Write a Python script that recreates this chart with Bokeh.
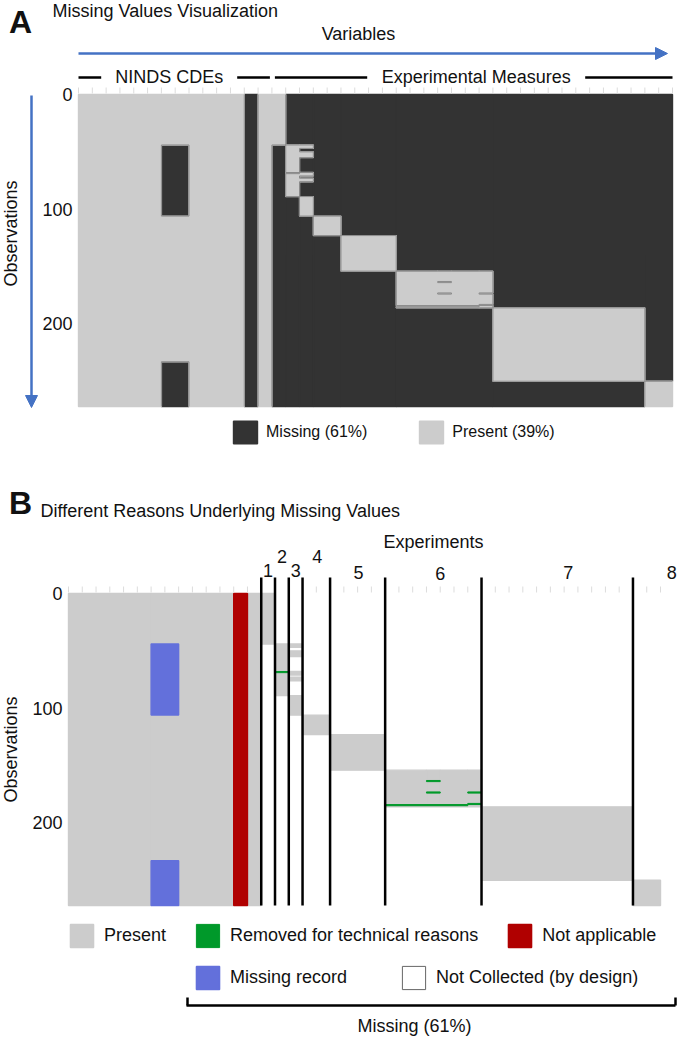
import numpy as np
from bokeh.plotting import figure
from bokeh.models import (Range1d, Label, Arrow, NormalHead,
                          Legend, LegendItem, ColumnDataSource)
from bokeh.core.properties import value
from bokeh.layouts import column
from bokeh.embed import file_html
from bokeh.resources import INLINE

# ------------------------------------------------------------------ data
N_OBS = 272
N_VARS = 43
y_ticks = [0, 100, 200]

group_labels = ["NINDS CDEs", "Experimental Measures"]
group_col_start = [0, 14]
group_col_end = [14, 43]

not_applicable_cols = [12]

record_col_start = [6, 6]
record_col_end = [8, 8]
record_row_start = [44, 233]
record_row_end = [106, 272]

exp_labels = ["1", "2", "3", "4", "5", "6", "7", "8"]
exp_col_start = [14, 15, 16, 17, 19, 23, 30, 41]
exp_col_end = [15, 16, 17, 19, 23, 30, 41, 43]
exp_row_start = [0, 44, 89, 106, 123, 154, 186, 250]
exp_row_end = [44, 89, 106, 123, 154, 186, 250, 272]

frag_col = [16, 16, 16, 16]
frag_row_start = [44, 50, 68, 73]
frag_row_end = [47, 55, 71, 76]

removed_col_start = [15, 26, 26, 29, 29, 23]
removed_col_end = [16, 27, 27, 30, 30, 29]
removed_row = [68, 163, 173, 173, 183, 184]

pct_missing = "61%"
pct_present = "39%"

# ------------------------------------------------------------------ style
FONT = "Liberation Sans"
TXT = "#111111"
C_DARK = "#333333"
C_LIGHT = "#cccccc"
C_GREEN = "#00992a"
C_RED = "#b00000"
C_BLUE = "#6370db"
C_ARROW = "#4472c4"
C_EDGE = "#8a8a8a"
C_TICK = "#dcdcdc"
PAGE_W = 680

PRESENT, REMOVED, NOT_APPLICABLE, MISSING_RECORD, NOT_COLLECTED = range(5)

# ------------------------------------------------------------------ status matrix
status = np.full((N_OBS, N_VARS), PRESENT)
status[:, group_col_start[1]:group_col_end[1]] = NOT_COLLECTED
for c0, c1, r0, r1 in zip(exp_col_start, exp_col_end, exp_row_start, exp_row_end):
    status[r0:r1, c0:c1] = PRESENT
for c, r0, r1 in zip(frag_col, frag_row_start, frag_row_end):
    status[r0:r1, c] = PRESENT
for c in not_applicable_cols:
    status[:, c] = NOT_APPLICABLE
for c0, c1, r0, r1 in zip(record_col_start, record_col_end, record_row_start, record_row_end):
    status[r0:r1, c0:c1] = MISSING_RECORD
for c0, c1, r in zip(removed_col_start, removed_col_end, removed_row):
    status[r, c0:c1] = REMOVED


def to_rects(mat):
    n_r, n_c = mat.shape
    rects = []
    active = {}
    for c in range(n_c):
        col = mat[:, c]
        runs = []
        r0 = 0
        for r in range(1, n_r + 1):
            if r == n_r or col[r] != col[r0]:
                runs.append((r0, r, int(col[r0])))
                r0 = r
        new_active = {}
        for key in runs:
            new_active[key] = active.get(key, c)
        for key, cs in active.items():
            if key not in new_active:
                rects.append((cs, c, key[0], key[1], key[2]))
        active = new_active
    for key, cs in active.items():
        rects.append((cs, n_c, key[0], key[1], key[2]))
    return rects


def boundary_segments(b):
    x0, y0, x1, y1 = [], [], [], []
    n_r, n_c = b.shape
    dh = b[1:, :] != b[:-1, :]
    for i in range(dh.shape[0]):
        c = 0
        while c < n_c:
            if dh[i, c]:
                cs = c
                while c < n_c and dh[i, c]:
                    c += 1
                x0.append(cs); x1.append(c); y0.append(i + 1); y1.append(i + 1)
            else:
                c += 1
    dv = b[:, 1:] != b[:, :-1]
    for j in range(dv.shape[1]):
        r = 0
        while r < n_r:
            if dv[r, j]:
                rs = r
                while r < n_r and dv[r, j]:
                    r += 1
                x0.append(j + 1); x1.append(j + 1); y0.append(rs); y1.append(r)
            else:
                r += 1
    return x0, y0, x1, y1


def rect_source(rects, val):
    sel = [r for r in rects if r[4] == val]
    return ColumnDataSource(dict(
        left=[float(r[0]) for r in sel], right=[float(r[1]) for r in sel],
        top=[float(r[2]) for r in sel], bottom=[float(r[3]) for r in sel]))


class Panel:
    """A figure whose frame fills the whole canvas; page pixels map to data."""

    def __init__(self, page_top, height, left, top, w, h):
        self.page_top, self.height = page_top, height
        self.left, self.top = left, top
        self.pxc, self.pxr = w / N_VARS, h / N_OBS
        x0, _ = self.conv(0, 0)
        x1, _ = self.conv(PAGE_W, 0)
        _, yb = self.conv(0, page_top + height)
        _, yt = self.conv(0, page_top)
        p = figure(width=PAGE_W, height=height,
                   x_range=Range1d(x0, x1), y_range=Range1d(yb, yt),
                   x_axis_type=None, y_axis_type=None,
                   output_backend="svg", toolbar_location=None,
                   min_border=0, min_border_left=0, min_border_right=0,
                   min_border_top=0, min_border_bottom=0)
        p.xgrid.visible = False
        p.ygrid.visible = False
        p.outline_line_color = None
        p.background_fill_color = "white"
        p.border_fill_color = "white"
        self.p = p

    def conv(self, px, py):
        return ((px - self.left) / self.pxc, (py - self.top) / self.pxr)

    def dy(self, py):
        return py / self.pxr

    def lab(self, px, py, text, size="18px", align="center", bold=False, angle=0.0):
        x, y = self.conv(px, py)
        self.p.add_layout(Label(x=x, y=y, text=text, text_font=FONT, text_font_size=size,
                                text_color=TXT, text_align=align, text_baseline="middle",
                                text_font_style="bold" if bold else "normal", angle=angle))

    def seg(self, px0, py0, px1, py1, color="black", width=2.5, head=None):
        x0, y0 = self.conv(px0, py0)
        x1, y1 = self.conv(px1, py1)
        self.p.add_layout(Arrow(x_start=x0, y_start=y0, x_end=x1, y_end=y1, start=None,
                                end=head, line_color=color, line_width=width))

    def axes(self, label_right_px):
        p = self.p
        cols = list(range(N_VARS + 1))
        p.segment(x0=cols, y0=[-self.dy(7)] * len(cols), x1=cols,
                  y1=[-self.dy(1)] * len(cols), line_color=C_TICK, line_width=1)
        xl, _ = self.conv(label_right_px, 0)
        p.text(x=[xl] * len(y_ticks), y=y_ticks, text=[str(t) for t in y_ticks],
               text_align="right", text_baseline="middle", text_color=TXT,
               text_font=value(FONT), text_font_size="18px")

    def legend_loc(self, px_left, py_bottom):
        return (px_left, self.page_top + self.height - py_bottom)


# ================================================================== Panel A
A = Panel(page_top=0, height=470, left=78, top=94, w=594, h=312)
pA = A.p
binA = np.where(status == PRESENT, 1, 0)
rectsA = to_rects(binA)
rA_miss = pA.quad(left="left", right="right", top="top", bottom="bottom",
                  source=rect_source(rectsA, 0), fill_color=C_DARK,
                  line_color=C_DARK, line_width=1.4)
rA_pres = pA.quad(left="left", right="right", top="top", bottom="bottom",
                  source=rect_source(rectsA, 1), fill_color=C_LIGHT,
                  line_color=C_LIGHT, line_width=1.4)
bx0, by0, bx1, by1 = boundary_segments(binA)
pA.segment(x0=bx0, y0=by0, x1=bx1, y1=by1, line_color=C_EDGE, line_width=1)
A.axes(72)

A.lab(20, 21, "A", size="32px", bold=True)
A.lab(52, 10, "Missing Values Visualization", align="left")
A.lab(358, 33, "Variables")
A.seg(78, 53, 667, 53, color=C_ARROW, width=2.5,
      head=NormalHead(size=12, fill_color=C_ARROW, line_color=C_ARROW))
A.lab(10, 233, "Observations", angle=np.pi / 2)
A.seg(31, 95, 31, 407, color=C_ARROW, width=2.5,
      head=NormalHead(size=12, fill_color=C_ARROW, line_color=C_ARROW))

grp_dx = [-6, 4]
grp_half = [56, 97]
for g, (gl, c0, c1) in enumerate(zip(group_labels, group_col_start, group_col_end)):
    xs = A.left + c0 * A.pxc
    xe = A.left + c1 * A.pxc
    xl = xs + (3 if c0 > 0 else 0)
    xr = xe - (2 if c1 < N_VARS else 0)
    xc = (xs + xe) / 2 + grp_dx[g]
    A.lab(xc, 76, gl)
    A.seg(xl, 77, xc - grp_half[g] - 12, 77)
    A.seg(xc + grp_half[g] + 12, 77, xr, 77)

legA = Legend(items=[LegendItem(label=f"Missing ({pct_missing})", renderers=[rA_miss]),
                     LegendItem(label=f"Present ({pct_present})", renderers=[rA_pres])],
              location=A.legend_loc(230, 446), orientation="horizontal",
              glyph_width=30, glyph_height=28, label_standoff=6, spacing=49,
              padding=0, margin=0, border_line_color=None, background_fill_alpha=0,
              label_text_font=FONT, label_text_font_size="16px", label_text_color=TXT)
pA.add_layout(legA)

# ================================================================== Panel B
B = Panel(page_top=470, height=567, left=68, top=593, w=592, h=312)
pB = B.p
rectsB = to_rects(status)
colorsB = {PRESENT: C_LIGHT, REMOVED: C_GREEN, NOT_APPLICABLE: C_RED,
           MISSING_RECORD: C_BLUE}
rB = {}
for val, col in colorsB.items():
    rB[val] = pB.quad(left="left", right="right", top="top", bottom="bottom",
                      source=rect_source(rectsB, val), fill_color=col,
                      line_color=col, line_width=1.0 if val == REMOVED else 1.4)
# legend proxy for "not collected" cells (they are the white background)
nan = float("nan")
rB[NOT_COLLECTED] = pB.quad(left=[nan], right=[nan], top=[nan], bottom=[nan],
                            fill_color="white", line_color="#666666", line_width=1)
B.axes(62)

# experiment separators and numbers
_, line_top = B.conv(0, 577)
pB.segment(x0=exp_col_start, y0=[line_top] * len(exp_col_start),
           x1=exp_col_start, y1=[N_OBS] * len(exp_col_start),
           line_color="black", line_width=2.5)
num_dx = [0, 0, 0, 1, 1, 7, 11, 25]
num_py = [570, 556, 570, 556, 572, 573, 572, 572]
for i, (el, c0, c1) in enumerate(zip(exp_labels, exp_col_start, exp_col_end)):
    xc = B.left + (c0 + c1) / 2 * B.pxc + num_dx[i]
    B.lab(xc, num_py[i], el)

B.lab(20, 502, "B", size="32px", bold=True)
B.lab(40, 510, "Different Reasons Underlying Missing Values", align="left")
B.lab(433, 541, "Experiments")
B.lab(10, 749, "Observations", angle=np.pi / 2)

leg_kw = dict(orientation="horizontal", glyph_width=29, glyph_height=29,
              label_standoff=8, padding=0, margin=0, border_line_color=None,
              background_fill_alpha=0, label_text_font=FONT,
              label_text_font_size="18px", label_text_color=TXT)
legB1 = Legend(items=[LegendItem(label="Present", renderers=[rB[PRESENT]]),
                      LegendItem(label="Removed for technical reasons", renderers=[rB[REMOVED]]),
                      LegendItem(label="Not applicable", renderers=[rB[NOT_APPLICABLE]])],
               location=B.legend_loc(67, 950), spacing=27, **leg_kw)
legB2 = Legend(items=[LegendItem(label="Missing record", renderers=[rB[MISSING_RECORD]]),
                      LegendItem(label="Not Collected (by design)", renderers=[rB[NOT_COLLECTED]])],
               location=B.legend_loc(193, 992), spacing=52, **leg_kw)
pB.add_layout(legB1)
pB.add_layout(legB2)

B.seg(187, 997, 187, 1005)
B.seg(186, 1005, 675, 1005)
B.seg(675, 997, 675, 1005)
B.lab(414, 1025, f"Missing ({pct_missing})")

layout = column(pA, pB, spacing=0)
open("out.html", "w").write(file_html(layout, INLINE))
